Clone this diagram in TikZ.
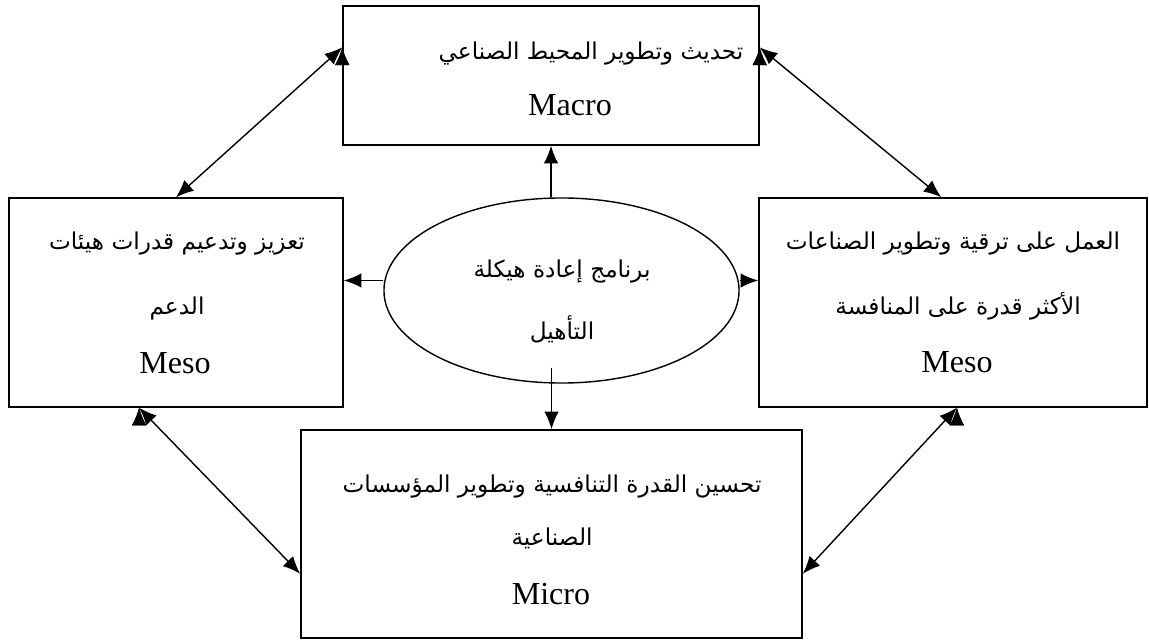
\documentclass[tikz,border=0pt]{standalone}
\usepackage{fontspec}
\setmainfont{Liberation Serif}
\newfontfamily\arabicfont[Script=Arabic]{DejaVu Sans}
\TeXXeTstate=1
\usetikzlibrary{shapes.geometric,calc,arrows.meta}

\begin{document}
\begin{tikzpicture}[x=0.025cm, y=-0.025cm, line width=1pt, >={Latex[length=4.4mm,width=3.6mm]}]
    \useasboundingbox (0,0) rectangle (1149,642);
    \node [draw, inner sep=0, minimum width=10.4cm, minimum height=3.475cm] (v1) at (551,75.5) {};
    \node [draw, inner sep=0, minimum width=8.35cm, minimum height=5.225cm] (v2) at (176,302.5) {};
    \node [draw, inner sep=0, minimum width=9.7cm, minimum height=5.225cm] (v3) at (953,302.5) {};
    \node [draw, inner sep=0, minimum width=12.525cm, minimum height=5.2cm] (v4) at (551.5,534) {};
    \node [draw, ellipse, inner sep=0, minimum width=8.875cm, minimum height=4.625cm] (v0) at (561.5,290.5) {};

    \begin{scope}[every node/.style={anchor=base}, font=\fontsize{16.5}{20}\selectfont, execute at begin node=\arabicfont\beginR, execute at end node=\endR]
      \node (a1) at (591,60) {تحديث وتطوير المحيط الصناعي};
      \node (a2) at (177,250) {تعزيز وتدعيم قدرات هيئات};
      \node (a3) at (177,315) {الدعم};
      \node (a4) at (953,250) {العمل على ترقية وتطوير الصناعات};
      \node (a5) at (958,315) {الأكثر قدرة على المنافسة};
      \node (a6) at (562,278) {برنامج إعادة هيكلة};
      \node (a7) at (562,340) {التأهيل};
      \node (a8) at (552,492) {تحسين القدرة التنافسية وتطوير المؤسسات};
      \node (a9) at (552,545) {الصناعية};
    \end{scope}
    \begin{scope}[every node/.style={anchor=base}, font=\fontsize{22.8}{27}\selectfont]
      \node (m1) at (570,116) {Macro};
      \node (m2) at (175,373) {Meso};
      \node (m3) at (957,372) {Meso};
      \node (m4) at (551,604) {Micro};
    \end{scope}

    \coordinate (p1) at ($(v1.north west)!0.3!(v1.south west)$);
    \coordinate (p2) at ($(v1.north east)!0.3!(v1.south east)$);
    \coordinate (p3) at ($(v3.north west)!0.47!(v3.north east)$);
    \coordinate (p4) at ($(v2.south west)!0.39!(v2.south east)$);
    \coordinate (p5) at ($(v4.north west)!0.69!(v4.south west)$);
    \coordinate (p6) at ($(v3.south west)!0.51!(v3.south east)$);
    \coordinate (p7) at ($(v4.north east)!0.69!(v4.south east)$);
    \coordinate (p8) at ($(v0.west)+(0,-10)$);
    \coordinate (p9) at ($(v0.east)+(0,-10)$);

    \draw [->] (v1.south |- v0.north) -- (v1.south);
    \draw [->] ($(v4.north |- v0.south)+(0,-16)$) -- (v4.north);
    \draw [->] (p8) -- (p8 -| v2.east);
    \draw [->] (p9) -- (p9 -| v3.west);
    \draw [<->] (p1) edge (v2.north);
    \draw [<->] (p2) edge (p3);
    \draw [<->] (p4) edge (p5);
    \draw [<->] (p6) edge (p7);
\end{tikzpicture}
\end{document}
